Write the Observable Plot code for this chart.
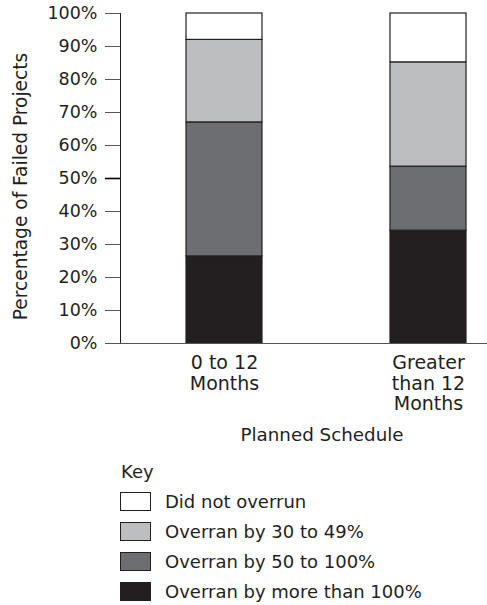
<!DOCTYPE html>
<html>
<head>
<meta charset="utf-8">
<script src="https://cdn.jsdelivr.net/npm/d3@7"></script>
<script src="https://cdn.jsdelivr.net/npm/@observablehq/plot@0.6"></script>
<style>
  html, body { margin: 0; padding: 0; background: #fff; }
  body { font-family: "DejaVu Sans", sans-serif; color: #231f20; width: 487px; }
  #legend { margin-top: 10px; padding-left: 120px; font-size: 18px; }
  #legend .key { height: 24px; line-height: 24px; margin-bottom: 2px; padding-left: 1px; }
  #legend .row { height: 30px; display: flex; align-items: center; }
  #legend .sw { width: 29px; height: 17px; border: 1px solid #231f20; margin-right: 14px; flex: none; }
  g[aria-label="y-axis tick"] path, g[aria-label="rule"] line { stroke: #555; }
  g[aria-label="y-axis tick"] path:nth-child(6) { stroke: #000; stroke-width: 1.6; }
</style>
</head>
<body>
<div id="chart"></div>
<div id="legend"></div>
<script>
const schedules = ["0 to 12 Months", "Greater than 12 Months"];
const scheduleLabels = ["0 to 12\nMonths", "Greater\nthan 12\nMonths"];
// bottom to top
const categories = ["Overran by more than 100%", "Overran by 50 to 100%", "Overran by 30 to 49%", "Did not overrun"];
const colors = ["#231f20", "#6d6e71", "#bcbec0", "#ffffff"];
const shortTerm = [26.4, 40.6, 25.0, 8.0];
const longTerm = [34.2, 19.4, 31.6, 14.8];
const yTicks = [0, 10, 20, 30, 40, 50, 60, 70, 80, 90, 100];
const yTitle = "Percentage of Failed Projects";
const xTitle = "Planned Schedule";

const data = [];
categories.forEach((c, i) => {
  data.push({schedule: schedules[0], category: c, value: shortTerm[i] / 100});
  data.push({schedule: schedules[1], category: c, value: longTerm[i] / 100});
});

const chart = Plot.plot({
  width: 487,
  height: 450,
  marginTop: 13,
  marginBottom: 107,
  marginLeft: 120,
  marginRight: 0,
  style: {fontFamily: "DejaVu Sans, sans-serif", fontSize: "17.5px", color: "#231f20", background: "#fff"},
  x: {domain: schedules, paddingInner: 0.629, paddingOuter: 0.21, align: 0.756},
  y: {
    domain: [0, 1],
    ticks: yTicks.map(d => d / 100),
    tickFormat: d => `${Math.round(d * 100)}%`,
    tickSize: 15,
    tickPadding: 8,
    line: true,
    label: null
  },
  color: {domain: categories, range: colors},
  marks: [
    Plot.barY(data, {x: "schedule", y: "value", fill: "category", stroke: "#231f20", strokeWidth: 1.2}),
    Plot.ruleY([0], {stroke: "#555"}),
    Plot.axisX({
      tickSize: 0,
      tickPadding: 11,
      tickFormat: d => scheduleLabels[schedules.indexOf(d)],
      lineHeight: 1.08,
      fontSize: 19,
      label: null
    }),
    Plot.text([yTitle], {frameAnchor: "left", textAnchor: "middle", rotate: -90, lineAnchor: "middle", dx: -99, dy: 8, fontSize: 18.6, fill: "#231f20"}),
    Plot.text([xTitle], {frameAnchor: "bottom", lineAnchor: "top", dy: 84, dx: 18, fontSize: 18.3, fill: "#231f20"})
  ]
});
document.getElementById("chart").appendChild(chart);

const legend = document.getElementById("legend");
const key = document.createElement("div");
key.className = "key";
key.textContent = "Key";
legend.appendChild(key);
categories.slice().reverse().forEach((c) => {
  const row = document.createElement("div");
  row.className = "row";
  const sw = document.createElement("span");
  sw.className = "sw";
  sw.style.background = colors[categories.indexOf(c)];
  const t = document.createElement("span");
  t.textContent = c;
  row.appendChild(sw);
  row.appendChild(t);
  legend.appendChild(row);
});
</script>
</body>
</html>
